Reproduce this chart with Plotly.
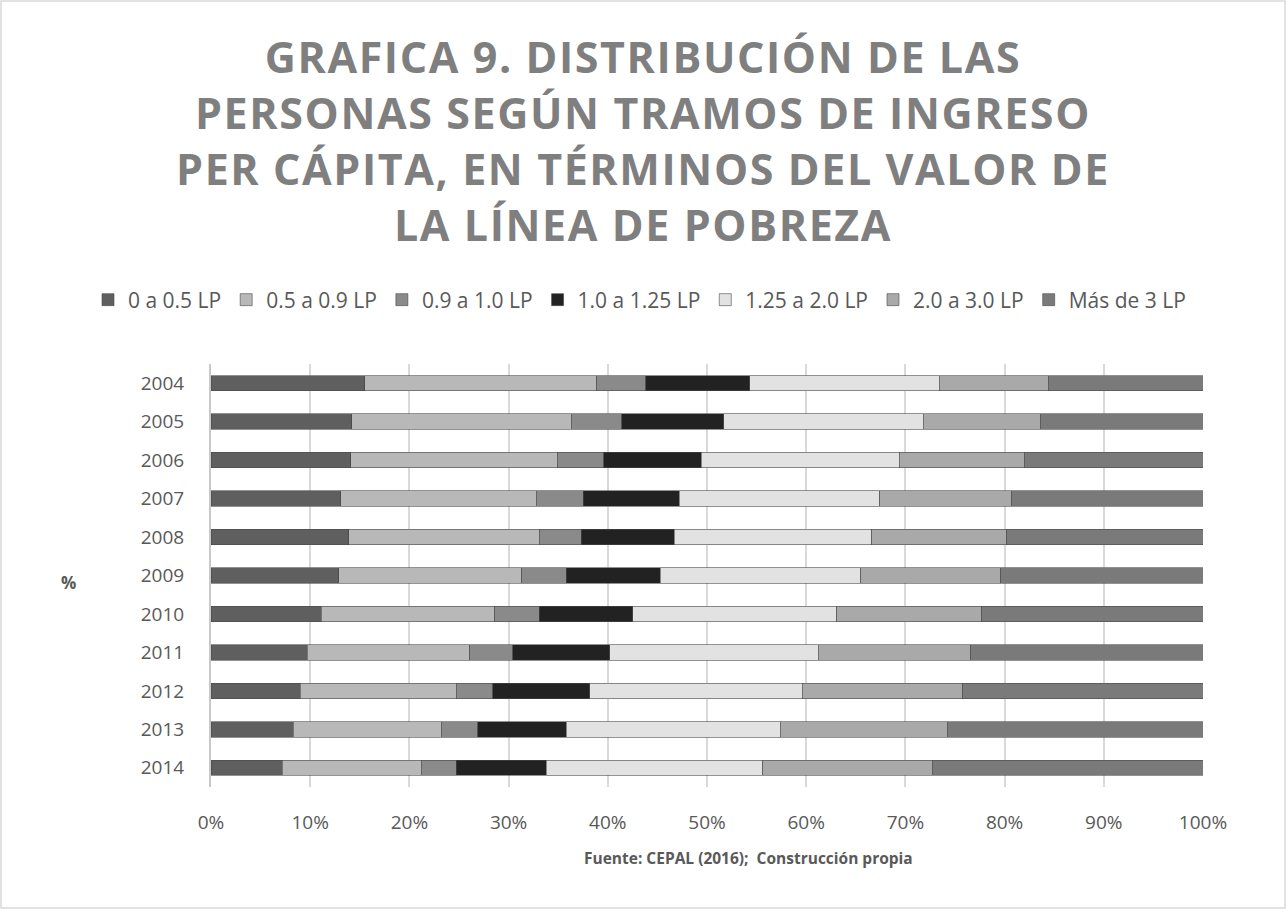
import plotly.graph_objects as go

years = ["2004", "2005", "2006", "2007", "2008", "2009", "2010", "2011", "2012", "2013", "2014"]
series_names = ["0 a 0.5 LP", "0.5 a 0.9 LP", "0.9 a 1.0 LP", "1.0 a 1.25 LP",
                "1.25 a 2.0 LP", "2.0 a 3.0 LP", "Más de 3 LP"]

s_0_05 = [15.5, 14.2, 14.1, 13.1, 13.9, 12.9, 11.1, 9.7, 9.0, 8.3, 7.2]
s_05_09 = [23.4, 22.1, 20.8, 19.7, 19.2, 18.4, 17.5, 16.4, 15.7, 14.9, 14.0]
s_09_10 = [4.9, 5.1, 4.7, 4.7, 4.2, 4.5, 4.5, 4.3, 3.7, 3.7, 3.5]
s_10_125 = [10.5, 10.3, 9.8, 9.7, 9.4, 9.5, 9.4, 9.8, 9.8, 8.9, 9.1]
s_125_20 = [19.1, 20.1, 20.0, 20.2, 19.9, 20.2, 20.6, 21.0, 21.4, 21.6, 21.8]
s_20_30 = [11.0, 11.8, 12.6, 13.3, 13.6, 14.1, 14.6, 15.4, 16.2, 16.8, 17.1]
s_mas_3 = [15.6, 16.4, 18.0, 19.3, 19.8, 20.4, 22.3, 23.4, 24.2, 25.8, 27.3]

series_values = [s_0_05, s_05_09, s_09_10, s_10_125, s_125_20, s_20_30, s_mas_3]
colors = ["#5f5f5f", "#b8b8b8", "#8a8a8a", "#222222", "#e2e2e2", "#a9a9a9", "#7a7a7a"]

x_ticks = [0, 10, 20, 30, 40, 50, 60, 70, 80, 90, 100]
x_tick_labels = ["0%", "10%", "20%", "30%", "40%", "50%", "60%", "70%", "80%", "90%", "100%"]

FONT = "Open Sans"
TXT = "#595959"

fig = go.Figure()
for name, vals, col in zip(series_names, series_values, colors):
    fig.add_trace(go.Bar(
        y=years, x=vals, name=name, orientation="h",
        marker=dict(color=col, line=dict(width=0.6, color="#4a4a4a")),
        width=0.4,
    ))

W, H = 1286, 909
ml, mr, mt, mb = 211, 83, 364, 122
pw, ph = W - ml - mr, H - mt - mb

def px_x(p):
    return (p - ml) / pw

def px_y(p):
    return (H - mb - p) / ph

fig.update_layout(
    width=W, height=H,
    barmode="stack",
    paper_bgcolor="white", plot_bgcolor="white",
    margin=dict(l=ml, r=mr, t=mt, b=mb, pad=0),
    font=dict(family=FONT, color=TXT, size=19),
    title=dict(
        text="GRAFICA 9. DISTRIBUCIÓN DE LAS<br>PERSONAS SEGÚN TRAMOS DE INGRESO<br>"
             "PER CÁPITA, EN TÉRMINOS DEL VALOR DE<br>LA LÍNEA DE POBREZA",
        x=0.5, xanchor="center", xref="container",
        y=1 - 73 / H, yanchor="top", yref="container",
        font=dict(family=FONT, size=43, color="#7f7f7f", weight="bold"),
    ),
    legend=dict(
        orientation="h", x=px_x(88), xanchor="left", y=px_y(300), yanchor="middle",
        font=dict(family=FONT, size=21, color=TXT),
        traceorder="normal", itemwidth=30, bgcolor="rgba(0,0,0,0)",
    ),
    xaxis=dict(
        range=[0, 100], tickvals=x_ticks, ticktext=x_tick_labels,
        showgrid=True, gridcolor="#d9d9d9", gridwidth=1.5,
        zeroline=False, showline=False, ticks="", ticklabelstandoff=22,
        tickfont=dict(size=19, color=TXT), automargin=False,
    ),
    yaxis=dict(
        categoryorder="array", categoryarray=years[::-1],
        showgrid=False, zeroline=False, showline=True, linecolor="#c8c8c8", linewidth=2,
        ticks="", ticklabelstandoff=21, tickfont=dict(size=19, color=TXT), automargin=False,
    ),
    bargap=0.6,
)

fig.add_annotation(
    text="<b>Fuente: CEPAL (2016);  Construcción propia</b>",
    xref="paper", yref="paper", x=px_x(748), y=px_y(858),
    xanchor="center", yanchor="middle", showarrow=False,
    font=dict(family=FONT, size=15.5, color=TXT),
)
fig.add_annotation(
    text="<b>%</b>",
    xref="paper", yref="paper", x=px_x(68), y=px_y(582),
    xanchor="center", yanchor="middle", showarrow=False,
    font=dict(family=FONT, size=17, color=TXT),
)
fig.add_shape(
    type="rect", xref="paper", yref="paper",
    x0=px_x(1), x1=px_x(W - 1), y0=px_y(H - 1), y1=px_y(1),
    line=dict(color="#d9d9d9", width=1.5), fillcolor="rgba(0,0,0,0)", layer="below",
)

post = """
document.body.style.margin = '0';
document.body.style.padding = '0';
var ts = document.querySelectorAll('.gtitle');
ts.forEach(function(t){ t.style.letterSpacing = '1.6px'; });
"""
fig.write_html("out.html", post_script=post, config={"displayModeBar": False})
